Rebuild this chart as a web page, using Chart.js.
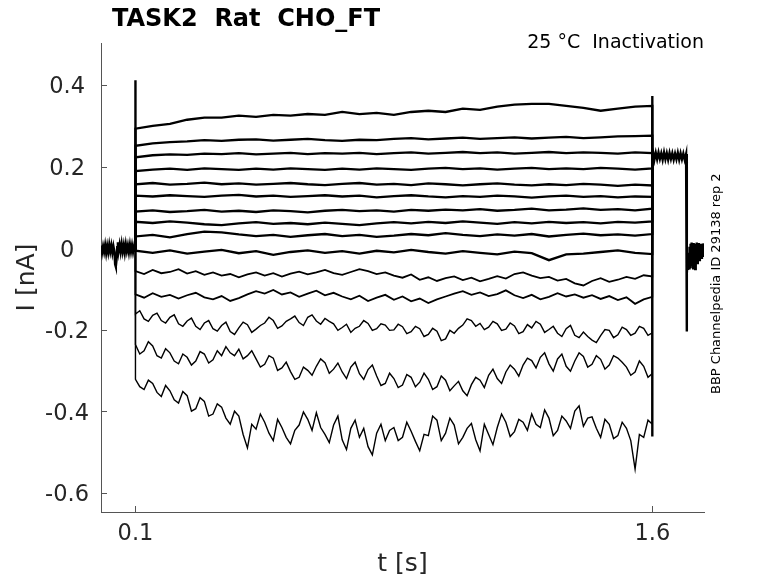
<!DOCTYPE html>
<html lang="en">
<head>
  <meta charset="UTF-8" />
  <title>TASK2 Rat CHO_FT – Inactivation</title>
  <script src="https://cdn.jsdelivr.net/npm/chart.js"></script>
  <style>
    * { box-sizing: border-box; }
    body { margin: 0; background: #fff; }
    #wrap { position: relative; width: 778px; height: 583px; }
  </style>
</head>
<body>
  <div id="wrap">
    <canvas id="traces"></canvas>
  </div>

  <script>
    // ---- texts ----
    const figTitle = 'TASK2  Rat  CHO_FT';
    const figCondition = '25 °C  Inactivation';
    const figSource = 'BBP Channelpedia ID 29138 rep 2';

    // ---- axes ----
    const xTickVals = [0.1, 1.6];
    const yTickVals = [-0.6, -0.4, -0.2, 0, 0.2, 0.4];
    const yTickLabels = ['-0.6', '-0.4', '-0.2', '0', '0.2', '0.4'];

    // ---- holding period before the pulse (s, nA) ----
    const holdT = [0, 0.003, 0.006, 0.009, 0.012, 0.015, 0.018, 0.021, 0.024, 0.027,
                   0.030, 0.033, 0.036, 0.039, 0.041, 0.043, 0.045, 0.047, 0.049, 0.051,
                   0.054, 0.057, 0.060, 0.063, 0.066, 0.069, 0.072, 0.075, 0.078, 0.081,
                   0.084, 0.087, 0.090, 0.093, 0.096, 0.099, 0.1, 0.1];
    const holdI = [0.008, -0.010, 0.006, -0.008, 0.009, -0.011, 0.007, -0.009, 0.010, -0.007,
                   0.008, -0.010, 0.006, -0.008, -0.038, -0.044, -0.028, 0.004, 0.016, -0.006,
                   0.010, -0.008, 0.012, -0.007, 0.009, -0.010, 0.011, -0.006, 0.008, -0.009,
                   0.010, -0.007, 0.009, -0.008, 0.006, -0.005, 0.0, 0.413];

    const holdLevel = 0;
    const testLevel = 0.228;

    // ---- prepulse sweeps, time grids (s) ----
    const tA = [0.10, 0.15, 0.20, 0.25, 0.30, 0.35, 0.40, 0.45, 0.50, 0.55,
                0.60, 0.65, 0.70, 0.75, 0.80, 0.85, 0.90, 0.95, 1.00, 1.05,
                1.10, 1.15, 1.20, 1.25, 1.30, 1.35, 1.40, 1.45, 1.50, 1.55, 1.60];
    const tB = [0.100, 0.125, 0.150, 0.175, 0.200, 0.225, 0.250, 0.275, 0.300, 0.325,
                0.350, 0.375, 0.400, 0.425, 0.450, 0.475, 0.500, 0.525, 0.550, 0.575,
                0.600, 0.625, 0.650, 0.675, 0.700, 0.725, 0.750, 0.775, 0.800, 0.825,
                0.850, 0.875, 0.900, 0.925, 0.950, 0.975, 1.000, 1.025, 1.050, 1.075,
                1.100, 1.125, 1.150, 1.175, 1.200, 1.225, 1.250, 1.275, 1.300, 1.325,
                1.350, 1.375, 1.400, 1.425, 1.450, 1.475, 1.500, 1.525, 1.550, 1.575, 1.600];
    const tC = [0.1000, 0.1125, 0.1250, 0.1375, 0.1500, 0.1625, 0.1750, 0.1875, 0.2000, 0.2125,
                0.2250, 0.2375, 0.2500, 0.2625, 0.2750, 0.2875, 0.3000, 0.3125, 0.3250, 0.3375,
                0.3500, 0.3625, 0.3750, 0.3875, 0.4000, 0.4125, 0.4250, 0.4375, 0.4500, 0.4625,
                0.4750, 0.4875, 0.5000, 0.5125, 0.5250, 0.5375, 0.5500, 0.5625, 0.5750, 0.5875,
                0.6000, 0.6125, 0.6250, 0.6375, 0.6500, 0.6625, 0.6750, 0.6875, 0.7000, 0.7125,
                0.7250, 0.7375, 0.7500, 0.7625, 0.7750, 0.7875, 0.8000, 0.8125, 0.8250, 0.8375,
                0.8500, 0.8625, 0.8750, 0.8875, 0.9000, 0.9125, 0.9250, 0.9375, 0.9500, 0.9625,
                0.9750, 0.9875, 1.0000, 1.0125, 1.0250, 1.0375, 1.0500, 1.0625, 1.0750, 1.0875,
                1.1000, 1.1125, 1.1250, 1.1375, 1.1500, 1.1625, 1.1750, 1.1875, 1.2000, 1.2125,
                1.2250, 1.2375, 1.2500, 1.2625, 1.2750, 1.2875, 1.3000, 1.3125, 1.3250, 1.3375,
                1.3500, 1.3625, 1.3750, 1.3875, 1.4000, 1.4125, 1.4250, 1.4375, 1.4500, 1.4625,
                1.4750, 1.4875, 1.5000, 1.5125, 1.5250, 1.5375, 1.5500, 1.5625, 1.5750, 1.5875,
                1.6000];

    // upper sweeps, sampled on tA (nA)
    const sweep1 = [0.294, 0.301, 0.306, 0.316, 0.321, 0.321, 0.326, 0.323, 0.328, 0.326,
                    0.330, 0.328, 0.335, 0.330, 0.333, 0.328, 0.335, 0.338, 0.335, 0.343,
                    0.340, 0.348, 0.353, 0.355, 0.355, 0.350, 0.345, 0.338, 0.343, 0.348, 0.350];
    const sweep2 = [0.252, 0.258, 0.261, 0.263, 0.266, 0.264, 0.267, 0.268, 0.265, 0.267,
                    0.269, 0.266, 0.264, 0.267, 0.266, 0.269, 0.271, 0.268, 0.270, 0.272,
                    0.269, 0.271, 0.273, 0.270, 0.272, 0.274, 0.271, 0.273, 0.275, 0.276, 0.277];
    const sweep3 = [0.224, 0.229, 0.231, 0.230, 0.233, 0.232, 0.234, 0.231, 0.233, 0.235,
                    0.232, 0.234, 0.233, 0.235, 0.232, 0.234, 0.236, 0.233, 0.235, 0.237,
                    0.234, 0.236, 0.233, 0.235, 0.237, 0.234, 0.236, 0.235, 0.233, 0.236, 0.234];
    const sweep4 = [0.190, 0.194, 0.196, 0.193, 0.197, 0.195, 0.193, 0.196, 0.194, 0.197,
                    0.195, 0.193, 0.196, 0.194, 0.197, 0.195, 0.193, 0.196, 0.198, 0.195,
                    0.197, 0.194, 0.196, 0.198, 0.195, 0.197, 0.195, 0.198, 0.196, 0.194, 0.197];
    const sweep5 = [0.158, 0.161, 0.157, 0.159, 0.162, 0.158, 0.160, 0.157, 0.159, 0.161,
                    0.158, 0.156, 0.159, 0.161, 0.157, 0.159, 0.156, 0.160, 0.158, 0.155,
                    0.158, 0.160, 0.157, 0.155, 0.158, 0.156, 0.159, 0.157, 0.154, 0.157, 0.155];
    const sweep6 = [0.130, 0.128, 0.131, 0.129, 0.127, 0.130, 0.132, 0.128, 0.130, 0.127,
                    0.129, 0.131, 0.128, 0.130, 0.126, 0.129, 0.131, 0.128, 0.126, 0.129,
                    0.127, 0.130, 0.128, 0.125, 0.128, 0.130, 0.127, 0.129, 0.126, 0.128, 0.127];
    const sweep7 = [0.091, 0.094, 0.090, 0.092, 0.095, 0.091, 0.093, 0.090, 0.094, 0.092,
                    0.089, 0.093, 0.095, 0.092, 0.094, 0.091, 0.095, 0.093, 0.096, 0.094,
                    0.097, 0.093, 0.095, 0.098, 0.094, 0.096, 0.099, 0.095, 0.097, 0.094, 0.098];
    const sweep8 = [0.066, 0.063, 0.067, 0.064, 0.060, 0.058, 0.062, 0.065, 0.061, 0.063,
                    0.060, 0.064, 0.061, 0.058, 0.062, 0.065, 0.062, 0.066, 0.063, 0.067,
                    0.064, 0.061, 0.065, 0.062, 0.066, 0.063, 0.065, 0.062, 0.066, 0.064, 0.067];
    const sweep9 = [0.030, 0.034, 0.028, 0.036, 0.042, 0.040, 0.035, 0.031, 0.034, 0.029,
                    0.033, 0.036, 0.031, 0.034, 0.029, 0.032, 0.036, 0.033, 0.038, 0.034,
                    0.031, 0.035, 0.032, 0.036, 0.030, 0.034, 0.037, 0.033, 0.035, 0.032, 0.036];
    const sweep10 = [-0.005, -0.010, -0.004, -0.012, -0.007, -0.003, -0.011, -0.006, -0.015, -0.008,
                     -0.004, -0.010, -0.006, -0.012, -0.005, -0.009, -0.003, -0.008, -0.012, -0.006,
                     -0.010, -0.014, -0.007, -0.011, -0.028, -0.014, -0.012, -0.008, -0.004, -0.010, -0.013];

    // middle sweeps, sampled on tB (nA)
    const sweep11 = [-0.055, -0.062, -0.052, -0.060, -0.057, -0.050, -0.061, -0.055, -0.064, -0.058,
                     -0.066, -0.062, -0.070, -0.063, -0.058, -0.066, -0.060, -0.068, -0.061, -0.056,
                     -0.063, -0.058, -0.052, -0.060, -0.064, -0.057, -0.050, -0.055, -0.062, -0.058,
                     -0.066, -0.071, -0.063, -0.076, -0.070, -0.079, -0.072, -0.068, -0.077, -0.071,
                     -0.080, -0.074, -0.067, -0.073, -0.062, -0.058, -0.066, -0.072, -0.069, -0.078,
                     -0.074, -0.085, -0.090, -0.079, -0.072, -0.081, -0.076, -0.069, -0.074, -0.065, -0.068];
    const sweep12 = [-0.112, -0.120, -0.109, -0.118, -0.113, -0.122, -0.114, -0.108, -0.119, -0.124,
                     -0.116, -0.128, -0.121, -0.112, -0.104, -0.110, -0.101, -0.112, -0.107, -0.118,
                     -0.110, -0.103, -0.114, -0.108, -0.117, -0.124, -0.115, -0.128, -0.120, -0.113,
                     -0.125, -0.117, -0.129, -0.122, -0.133, -0.124, -0.117, -0.110, -0.104, -0.113,
                     -0.107, -0.116, -0.111, -0.102, -0.114, -0.121, -0.113, -0.124, -0.118, -0.109,
                     -0.117, -0.112, -0.120, -0.114, -0.123, -0.116, -0.126, -0.119, -0.135, -0.124, -0.118];

    // lowest (noisiest) sweeps, sampled on tC (nA)
    const sweep13 = [-0.160, -0.152, -0.172, -0.178, -0.163, -0.158, -0.176, -0.182, -0.168, -0.162,
                     -0.184, -0.190, -0.177, -0.170, -0.190, -0.198, -0.182, -0.176, -0.196, -0.202,
                     -0.188, -0.180, -0.203, -0.210, -0.194, -0.180, -0.186, -0.205, -0.197, -0.188,
                     -0.182, -0.168, -0.176, -0.195, -0.189, -0.178, -0.172, -0.165, -0.181, -0.188,
                     -0.168, -0.162, -0.177, -0.185, -0.171, -0.178, -0.184, -0.200, -0.193, -0.185,
                     -0.205, -0.195, -0.190, -0.176, -0.183, -0.200, -0.196, -0.184, -0.187, -0.200,
                     -0.199, -0.185, -0.191, -0.208, -0.203, -0.190, -0.196, -0.215, -0.210, -0.195,
                     -0.202, -0.225, -0.221, -0.200, -0.207, -0.195, -0.187, -0.172, -0.176, -0.190,
                     -0.183, -0.198, -0.192, -0.178, -0.184, -0.200, -0.197, -0.182, -0.189, -0.208,
                     -0.203, -0.186, -0.194, -0.178, -0.185, -0.205, -0.198, -0.190, -0.207, -0.215,
                     -0.196, -0.188, -0.212, -0.218, -0.204, -0.215, -0.224, -0.230, -0.213, -0.198,
                     -0.200, -0.218, -0.211, -0.192, -0.198, -0.212, -0.207, -0.190, -0.195, -0.212,
                     -0.206];
    const sweep14 = [-0.235, -0.258, -0.250, -0.228, -0.238, -0.262, -0.268, -0.245, -0.255, -0.275,
                     -0.282, -0.258, -0.266, -0.285, -0.275, -0.252, -0.258, -0.280, -0.272, -0.250,
                     -0.262, -0.240, -0.255, -0.262, -0.246, -0.270, -0.262, -0.250, -0.270, -0.290,
                     -0.283, -0.262, -0.268, -0.298, -0.292, -0.278, -0.301, -0.320, -0.315, -0.290,
                     -0.298, -0.310, -0.288, -0.270, -0.279, -0.305, -0.295, -0.280, -0.302, -0.318,
                     -0.290, -0.278, -0.306, -0.320, -0.296, -0.285, -0.312, -0.335, -0.330, -0.305,
                     -0.318, -0.340, -0.334, -0.308, -0.315, -0.338, -0.327, -0.305, -0.320, -0.345,
                     -0.338, -0.312, -0.322, -0.348, -0.336, -0.325, -0.348, -0.360, -0.333, -0.315,
                     -0.322, -0.340, -0.310, -0.295, -0.318, -0.330, -0.302, -0.285, -0.295, -0.312,
                     -0.285, -0.268, -0.274, -0.292, -0.266, -0.255, -0.282, -0.300, -0.270, -0.258,
                     -0.288, -0.300, -0.275, -0.255, -0.264, -0.290, -0.283, -0.262, -0.271, -0.295,
                     -0.285, -0.262, -0.268, -0.278, -0.290, -0.310, -0.302, -0.275, -0.288, -0.315,
                     -0.306];
    const sweep15 = [-0.320, -0.338, -0.345, -0.322, -0.330, -0.352, -0.362, -0.335, -0.348, -0.370,
                     -0.378, -0.350, -0.360, -0.398, -0.392, -0.365, -0.374, -0.410, -0.405, -0.380,
                     -0.388, -0.415, -0.430, -0.398, -0.410, -0.455, -0.488, -0.430, -0.442, -0.405,
                     -0.425, -0.452, -0.470, -0.418, -0.438, -0.462, -0.478, -0.445, -0.432, -0.400,
                     -0.418, -0.445, -0.402, -0.438, -0.455, -0.475, -0.432, -0.410, -0.468, -0.492,
                     -0.440, -0.420, -0.462, -0.440, -0.485, -0.505, -0.452, -0.430, -0.470, -0.445,
                     -0.438, -0.470, -0.462, -0.425, -0.447, -0.472, -0.495, -0.455, -0.458, -0.410,
                     -0.420, -0.470, -0.452, -0.415, -0.432, -0.478, -0.462, -0.440, -0.428, -0.468,
                     -0.495, -0.430, -0.455, -0.480, -0.438, -0.405, -0.425, -0.460, -0.448, -0.418,
                     -0.425, -0.445, -0.405, -0.430, -0.438, -0.395, -0.415, -0.458, -0.445, -0.410,
                     -0.422, -0.440, -0.398, -0.385, -0.435, -0.415, -0.412, -0.440, -0.462, -0.418,
                     -0.430, -0.465, -0.458, -0.425, -0.440, -0.470, -0.540, -0.455, -0.462, -0.420,
                     -0.430];

    // ---- test pulse and tail after the prepulse (s, nA) ----
    const testT = [1.6, 1.6, 1.6,
                   1.602, 1.606, 1.610, 1.614, 1.618, 1.622, 1.626, 1.630, 1.634, 1.638,
                   1.642, 1.646, 1.650, 1.654, 1.658, 1.662, 1.666, 1.670, 1.674, 1.678,
                   1.682, 1.686, 1.690, 1.694, 1.698, 1.7, 1.7,
                   1.7005, 1.702, 1.7035, 1.705, 1.7065, 1.708, 1.7095, 1.711, 1.7125, 1.714,
                   1.7155, 1.717, 1.7185, 1.72, 1.7215, 1.723, 1.7245, 1.726, 1.7275, 1.729,
                   1.7305, 1.732, 1.7335, 1.735, 1.7365, 1.738, 1.7395, 1.741, 1.7425, 1.744,
                   1.7455, 1.747, 1.7485, 1.75, 1.752, 1.755];
    const testI = [0.374, -0.46, 0.228,
                   0.238, 0.218, 0.235, 0.219, 0.236, 0.220, 0.234, 0.218, 0.236, 0.219,
                   0.234, 0.218, 0.235, 0.220, 0.234, 0.218, 0.233, 0.219, 0.235, 0.218,
                   0.234, 0.219, 0.233, 0.218, 0.232, 0.226, -0.203,
                   -0.060, -0.035, -0.052, -0.010, -0.048, 0.005, -0.045, 0.012, -0.040, 0.015,
                   -0.030, 0.010, -0.048, 0.014, -0.025, 0.008, -0.050, 0.012, -0.020, 0.015,
                   -0.035, 0.010, -0.018, 0.014, -0.028, 0.008, -0.015, 0.012, -0.022, 0.010,
                   -0.012, 0.013, -0.020, 0.009, -0.010, 0.005];

    const upperSweeps = [sweep1, sweep2, sweep3, sweep4, sweep5, sweep6, sweep7, sweep8, sweep9, sweep10];
    const middleSweeps = [sweep11, sweep12];
    const lowerSweeps = [sweep13, sweep14, sweep15];

    function toPoints(times, vals) {
      return times.map((t, i) => ({ x: t, y: vals[i] }));
    }

    // each sweep steps in from the holding level and out to the test level
    function sweepData(times, vals) {
      return [{ x: 0.1, y: holdLevel }, ...toPoints(times, vals), { x: 1.6, y: testLevel }];
    }

    const lineStyle = { borderColor: '#000', pointRadius: 0, tension: 0, fill: false };

    const datasets = [
      { ...lineStyle, label: 'hold', data: toPoints(holdT, holdI), borderWidth: 2.4 },
      ...upperSweeps.map((s, k) => ({ ...lineStyle, label: 'sweep ' + (k + 1), data: sweepData(tA, s), borderWidth: 2.3 })),
      ...middleSweeps.map((s, k) => ({ ...lineStyle, label: 'sweep ' + (k + 11), data: sweepData(tB, s), borderWidth: 1.8 })),
      ...lowerSweeps.map((s, k) => ({ ...lineStyle, label: 'sweep ' + (k + 13), data: sweepData(tC, s), borderWidth: 1.4 })),
      { ...lineStyle, label: 'test', data: toPoints(testT, testI), borderWidth: 2.4 }
    ];

    const figText = {
      id: 'figText',
      afterDraw: chart => {
        const c = chart.ctx;
        c.save();
        c.fillStyle = '#000';
        c.textBaseline = 'alphabetic';
        c.textAlign = 'left';
        c.font = 'bold 24px "DejaVu Sans"';
        c.fillText(figTitle, 112, 26);
        c.textAlign = 'right';
        c.font = '19px "DejaVu Sans"';
        c.fillText(figCondition, 704, 47.5);
        c.translate(719.5, 394);
        c.rotate(-Math.PI / 2);
        c.textAlign = 'left';
        c.font = '13px "DejaVu Sans"';
        c.fillText(figSource, 0, 0);
        c.restore();
      }
    };

    Chart.defaults.font.family = '"DejaVu Sans", sans-serif';
    const axisGrey = '#555';

    new Chart(document.getElementById('traces'), {
      type: 'line',
      data: { datasets: datasets },
      options: {
        responsive: true,
        maintainAspectRatio: false,
        animation: false,
        events: [],
        layout: { padding: { left: 0, right: 74, top: 43, bottom: 0 } },
        plugins: { legend: { display: false }, tooltip: { enabled: false } },
        scales: {
          x: {
            type: 'linear',
            min: 0,
            max: 1.75,
            afterBuildTicks: s => { s.ticks = xTickVals.map(v => ({ value: v })); },
            afterFit: s => { s.height = 71; },
            ticks: {
              color: '#262626',
              font: { size: 22.5 },
              padding: 15,
              maxRotation: 0,
              callback: v => String(v)
            },
            grid: { drawOnChartArea: false, drawTicks: true, tickLength: -6, color: axisGrey, lineWidth: 1 },
            border: { display: true, color: axisGrey, width: 1 },
            title: { display: true, text: 't [s]', color: '#262626', font: { size: 25 }, padding: { top: 0, bottom: 4 } }
          },
          y: {
            min: -0.645,
            max: 0.504,
            afterBuildTicks: s => { s.ticks = yTickVals.map(v => ({ value: v })); },
            afterFit: s => { s.width = 101; },
            ticks: {
              color: '#262626',
              font: { size: 22.5 },
              padding: 18,
              labelOffset: 2,
              crossAlign: 'center',
              callback: v => yTickLabels[yTickVals.indexOf(v)] ?? String(v)
            },
            grid: { drawOnChartArea: false, drawTicks: true, tickLength: -6, color: axisGrey, lineWidth: 1 },
            border: { display: true, color: axisGrey, width: 1 },
            title: { display: true, text: 'I [nA]', color: '#262626', font: { size: 25 }, padding: { top: 12, bottom: 0 } }
          }
        }
      },
      plugins: [figText]
    });
  </script>
</body>
</html>
